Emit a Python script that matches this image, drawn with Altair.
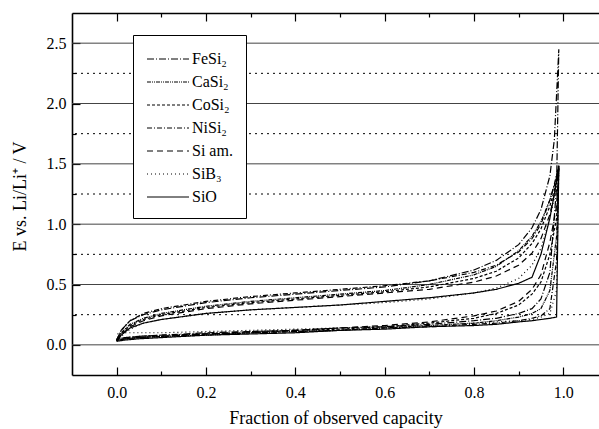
import altair as alt
import pandas as pd

materials = ["FeSi₂", "CaSi₂", "CoSi₂", "NiSi₂", "Si am.", "SiB₃", "SiO"]
dashes = [[7, 2, 1, 2], [4, 1, 1, 1, 1, 1], [3, 2], [5, 2, 1, 2], [6, 4], [1, 3], [1, 0]]

# delithiation branch (x ascending)
x_up = [0.0, 0.01, 0.03, 0.06, 0.1, 0.2, 0.3, 0.4, 0.5, 0.6, 0.7, 0.8, 0.85, 0.9, 0.93, 0.95, 0.97, 0.98, 0.99]
up_fesi2 = [0.04, 0.12, 0.2, 0.25, 0.29, 0.35, 0.39, 0.42, 0.45, 0.48, 0.53, 0.62, 0.7, 0.83, 0.97, 1.12, 1.4, 1.7, 2.45]
up_casi2 = [0.04, 0.1, 0.17, 0.22, 0.26, 0.32, 0.36, 0.39, 0.42, 0.45, 0.5, 0.58, 0.65, 0.78, 0.9, 1.02, 1.2, 1.32, 1.48]
up_cosi2 = [0.03, 0.09, 0.16, 0.21, 0.25, 0.31, 0.35, 0.38, 0.41, 0.44, 0.48, 0.55, 0.61, 0.72, 0.84, 0.96, 1.15, 1.28, 1.47]
up_nisi2 = [0.04, 0.12, 0.2, 0.26, 0.3, 0.36, 0.4, 0.43, 0.46, 0.49, 0.53, 0.6, 0.66, 0.77, 0.88, 1.0, 1.2, 1.33, 1.49]
up_siam = [0.03, 0.08, 0.15, 0.2, 0.24, 0.3, 0.34, 0.37, 0.4, 0.43, 0.46, 0.52, 0.57, 0.66, 0.76, 0.88, 1.08, 1.25, 1.46]
up_sib3 = [0.03, 0.07, 0.13, 0.18, 0.21, 0.26, 0.29, 0.31, 0.33, 0.35, 0.38, 0.43, 0.47, 0.55, 0.66, 0.8, 1.05, 1.22, 1.45]
up_sio = [0.03, 0.08, 0.14, 0.18, 0.21, 0.26, 0.29, 0.31, 0.33, 0.36, 0.39, 0.43, 0.46, 0.51, 0.56, 0.75, 1.05, 1.25, 1.48]

# lithiation branch (x descending from the top back to 0)
x_down = [0.99, 0.985, 0.97, 0.95, 0.93, 0.9, 0.85, 0.8, 0.7, 0.6, 0.5, 0.4, 0.3, 0.2, 0.1, 0.05, 0.02, 0.0]
down_fesi2 = [2.45, 1.3, 0.6, 0.38, 0.3, 0.26, 0.22, 0.2, 0.17, 0.15, 0.14, 0.12, 0.11, 0.1, 0.08, 0.07, 0.06, 0.05]
down_casi2 = [1.48, 0.9, 0.45, 0.3, 0.26, 0.23, 0.2, 0.18, 0.16, 0.14, 0.12, 0.11, 0.1, 0.08, 0.07, 0.06, 0.05, 0.04]
down_cosi2 = [1.47, 1.05, 0.75, 0.52, 0.42, 0.33, 0.26, 0.22, 0.18, 0.15, 0.13, 0.12, 0.1, 0.09, 0.07, 0.06, 0.05, 0.04]
down_nisi2 = [1.49, 0.7, 0.3, 0.24, 0.22, 0.2, 0.18, 0.17, 0.15, 0.14, 0.12, 0.11, 0.1, 0.09, 0.08, 0.07, 0.06, 0.05]
down_siam = [1.46, 1.15, 0.85, 0.58, 0.46, 0.36, 0.28, 0.24, 0.19, 0.16, 0.14, 0.12, 0.11, 0.09, 0.07, 0.06, 0.05, 0.04]
down_sib3 = [1.45, 0.45, 0.26, 0.23, 0.21, 0.2, 0.19, 0.18, 0.16, 0.15, 0.14, 0.13, 0.12, 0.11, 0.1, 0.1, 0.1, 0.09]
down_sio = [1.48, 0.23, 0.22, 0.21, 0.2, 0.19, 0.17, 0.16, 0.15, 0.13, 0.12, 0.1, 0.09, 0.08, 0.06, 0.05, 0.04, 0.03]

grid_major = [0.0, 0.5, 1.0, 1.5, 2.0, 2.5]
grid_minor = [0.25, 0.75, 1.25, 1.75, 2.25]
x_major = [0.0, 0.2, 0.4, 0.6, 0.8, 1.0]
x_minor = [0.1, 0.3, 0.5, 0.7, 0.9]

ups = [up_fesi2, up_casi2, up_cosi2, up_nisi2, up_siam, up_sib3, up_sio]
downs = [down_fesi2, down_casi2, down_cosi2, down_nisi2, down_siam, down_sib3, down_sio]

rows = []
for m, u, d in zip(materials, ups, downs):
    seq = 0
    for xv, yv in zip(x_up, u):
        rows.append({"material": m, "x": xv, "E": yv, "seq": seq})
        seq += 1
    for xv, yv in zip(x_down, d):
        rows.append({"material": m, "x": xv, "E": yv, "seq": seq})
        seq += 1
df = pd.DataFrame(rows)

FONT = "Liberation Serif"
xscale = alt.Scale(domain=[-0.1, 1.08], nice=False, zero=False)
yscale = alt.Scale(domain=[-0.25, 2.75], nice=False, zero=False)

def ax(orient, values=None, labels=False, domain=False, ticks=False, size=0, offset=0, **kw):
    args = dict(orient=orient, labels=labels, domain=domain, ticks=ticks, grid=False,
                tickSize=size, offset=offset, tickColor="black", tickWidth=1.2,
                domainColor="black", domainWidth=1.6, title=None)
    if values is not None:
        args["values"] = values
    args.update(kw)
    return alt.Axis(**args)

maj_df = pd.DataFrame({"v": grid_major})
min_df = pd.DataFrame({"v": grid_minor})
xmaj_df = pd.DataFrame({"v": x_major})
xmin_df = pd.DataFrame({"v": x_minor})

grid_major_layer = alt.Chart(maj_df).mark_rule(color="#444444", strokeWidth=1).encode(
    y=alt.Y("v:Q", scale=yscale,
            axis=ax("left", values=grid_major, labels=True, domain=True, format=".1f",
                    labelFont=FONT, labelFontSize=16, labelColor="black", labelPadding=6,
                    title="E vs.  Li/Li⁺ / V", titleFont=FONT, titleFontSize=18,
                    titleFontWeight="normal", titleColor="black", titleX=-52, titleY=183,
                    titleBaseline="middle", titleAlign="center", titleAngle=-90))
)
grid_minor_layer = alt.Chart(min_df).mark_rule(color="black", strokeWidth=1, strokeDash=[2, 4]).encode(
    y=alt.Y("v:Q", scale=yscale, axis=ax("left", values=grid_minor, ticks=True, size=4, offset=-4))
)

lines = alt.Chart(df).mark_line(color="black", strokeWidth=1.2).encode(
    x=alt.X("x:Q", scale=xscale,
            axis=ax("bottom", values=x_major, labels=True, domain=True, format=".1f",
                    labelFont=FONT, labelFontSize=16, labelColor="black", labelPadding=9,
                    title="Fraction of observed capacity", titleFont=FONT, titleFontSize=18,
                    titleFontWeight="normal", titleColor="black", titlePadding=9)),
    y=alt.Y("E:Q", scale=yscale, axis=ax("left", values=grid_major, ticks=True, size=8, offset=-8)),
    strokeDash=alt.StrokeDash("material:N", scale=alt.Scale(domain=materials, range=dashes),
                              legend=alt.Legend(orient="none", legendX=61, legendY=22, title=None,
                                                symbolType="M-2,0H2", symbolSize=441,
                                                symbolStrokeColor="black", symbolStrokeWidth=1,
                                                symbolFillColor="transparent", symbolOffset=11,
                                                labelFont=FONT, labelFontSize=16, labelColor="black",
                                                strokeColor="black", fillColor="white",
                                                padding=13, rowPadding=4, labelOffset=13)),
    order="seq:Q",
)

def xlayer(data, axis):
    return alt.Chart(data).mark_point(opacity=0).encode(x=alt.X("v:Q", scale=xscale, axis=axis))

bottom_major = xlayer(xmaj_df, ax("bottom", values=x_major, ticks=True, size=8, offset=-8))
bottom_minor = xlayer(xmin_df, ax("bottom", values=x_minor, ticks=True, size=4, offset=-4))
top_domain = xlayer(xmaj_df, ax("top", domain=True))
top_major = xlayer(xmaj_df, ax("top", values=x_major, ticks=True, size=8, offset=-8))
top_minor = xlayer(xmin_df, ax("top", values=x_minor, ticks=True, size=4, offset=-4))

chart = alt.layer(
    grid_major_layer, grid_minor_layer, lines,
    bottom_major, bottom_minor, top_domain, top_major, top_minor
).resolve_axis(x="independent", y="independent").properties(
    width=527, height=362,
    autosize=alt.AutoSizeParams(type="none"),
    padding={"left": 72, "top": 13, "right": 0, "bottom": 54},
).configure_view(stroke=None).configure(background="white")

chart.save("out.html", embed_options={"renderer": "svg", "actions": False})
